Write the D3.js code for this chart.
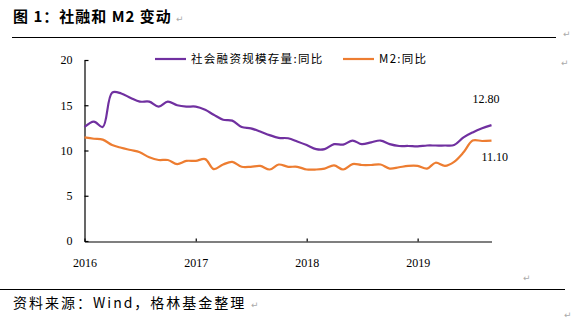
<!DOCTYPE html>
<html>
<head>
<meta charset="utf-8">
<script src="https://cdn.jsdelivr.net/npm/d3@7"></script>
<style>
  body { margin: 0; background: #fff; }
  svg { display: block; }
  .cjk { font-family: "Noto Sans CJK SC", sans-serif; }
  .num { font-family: "Liberation Serif", "DejaVu Serif", serif; }
  .mark { fill: #aaa; font-family: "DejaVu Sans", sans-serif; font-size: 9px; }
</style>
</head>
<body>
<svg width="579" height="321"></svg>
<script>
let svgWidth = 579
let svgHeight = 321

// monthly, Jan 2016 .. Sep 2019
let startMonth = [2016, 0]
let tsf = [12.6, 13.2, 12.6, 16.4, 16.3, 15.8, 15.4, 15.4, 14.85, 15.4, 15.0, 14.85,
  14.85, 14.5, 13.95, 13.4, 13.3, 12.6, 12.45, 12.1, 11.7, 11.4, 11.35, 11.0,
  10.6, 10.15, 10.15, 10.7, 10.65, 11.1, 10.7, 10.9, 11.1, 10.7, 10.5, 10.5,
  10.45, 10.55, 10.55, 10.55, 10.6, 11.45, 12.0, 12.45, 12.8]
let m2 = [11.45, 11.3, 11.2, 10.6, 10.3, 10.05, 9.8, 9.25, 8.95, 8.95, 8.5, 8.85,
  8.85, 9.05, 7.95, 8.45, 8.75, 8.2, 8.2, 8.3, 7.9, 8.45, 8.2, 8.2,
  7.9, 7.9, 8.0, 8.35, 7.9, 8.5, 8.4, 8.4, 8.45, 8.0, 8.15, 8.3,
  8.3, 8.0, 8.65, 8.3, 8.75, 9.8, 11.1, 11.05, 11.1]
let yTicks = [0, 5, 10, 15, 20]
let xTicks = [2016, 2017, 2018, 2019]
let seriesNames = ['社会融资规模存量:同比', 'M2:同比']
let lastLabels = ['12.80', '11.10']
let colors = ['#7030a0', '#ed7d31']

let svg = d3.select('svg')

function monthDate(i) {
  return new Date(startMonth[0], startMonth[1] + i, 1)
}

let xScale = d3.scaleTime()
  .domain([monthDate(0), monthDate(tsf.length - 1)])
  .range([84.5, 491.5])
let yScale = d3.scaleLinear().domain([0, 20]).range([241, 60])

// title
svg.append('text')
  .attr('class', 'cjk')
  .attr('x', 13).attr('y', 22)
  .attr('font-size', 15).attr('font-weight', 'bold')
  .attr('letter-spacing', 1)
  .text('图 1：社融和 M2 变动')
svg.append('text').attr('class', 'mark').attr('x', 176).attr('y', 22).text('↵')
svg.append('line')
  .attr('x1', 12).attr('x2', 556).attr('y1', 37.5).attr('y2', 37.5)
  .attr('stroke', '#000').attr('stroke-width', 1)
svg.append('text').attr('class', 'mark').attr('x', 563).attr('y', 37).text('↵')
svg.append('text').attr('class', 'mark').attr('x', 561).attr('y', 66).text('↵')

// axes
let yAxis = d3.axisLeft(yScale).tickValues(yTicks)
  .tickSizeInner(-4).tickSizeOuter(0).tickPadding(12)
let gy = svg.append('g').attr('transform', 'translate(84.5,0)').call(yAxis)
gy.selectAll('text').attr('class', 'num').attr('font-size', 12).attr('fill', '#000')

let xAxis = d3.axisBottom(xScale)
  .tickValues(xTicks.map(y => new Date(y, 0, 1)))
  .tickFormat(d3.timeFormat('%Y'))
  .tickSizeInner(-3).tickSizeOuter(0).tickPadding(17)
let gx = svg.append('g').attr('transform', 'translate(0,241.5)').call(xAxis)
gx.selectAll('text').attr('class', 'num').attr('font-size', 12).attr('fill', '#000')

svg.selectAll('.domain, .tick line').attr('stroke', '#000').attr('stroke-width', 1.2)

// lines
let line = d3.line()
  .x((d, i) => xScale(monthDate(i)))
  .y(d => yScale(d))
  .curve(d3.curveCatmullRom.alpha(0.5))

;[tsf, m2].forEach(function(s, k) {
  svg.append('path')
    .datum(s)
    .attr('d', line)
    .attr('fill', 'none')
    .attr('stroke', colors[k])
    .attr('stroke-width', 2.2)
    .attr('stroke-linejoin', 'round')
})

// end labels
svg.append('text').attr('class', 'num').attr('font-size', 12)
  .attr('x', xScale(monthDate(tsf.length - 1)) - 19).attr('y', 103)
  .text(lastLabels[0])
svg.append('text').attr('class', 'num').attr('font-size', 12)
  .attr('x', xScale(monthDate(m2.length - 1)) - 10).attr('y', 161)
  .text(lastLabels[1])

// legend
let legendX = [155, 343]
seriesNames.forEach(function(name, k) {
  svg.append('line')
    .attr('x1', legendX[k]).attr('x2', legendX[k] + 31)
    .attr('y1', 59).attr('y2', 59)
    .attr('stroke', colors[k]).attr('stroke-width', 2.2)
  svg.append('text')
    .attr('class', 'cjk')
    .attr('x', legendX[k] + 36).attr('y', 63)
    .attr('font-size', 11.5)
    .attr('letter-spacing', 1.3)
    .text(name)
})

// footer
svg.append('text').attr('class', 'mark').attr('x', 523).attr('y', 281).text('↵')
svg.append('line')
  .attr('x1', 0).attr('x2', 565).attr('y1', 289.5).attr('y2', 289.5)
  .attr('stroke', '#000').attr('stroke-width', 1)
svg.append('text')
  .attr('class', 'cjk')
  .attr('x', 13).attr('y', 308)
  .attr('font-size', 14)
  .attr('letter-spacing', 2)
  .text('资料来源：Wind，格林基金整理')
svg.append('text').attr('class', 'mark').attr('x', 251).attr('y', 308).text('↵')
svg.append('text').attr('class', 'mark').attr('x', 564).attr('y', 318).text('↵')
</script>
</body>
</html>
